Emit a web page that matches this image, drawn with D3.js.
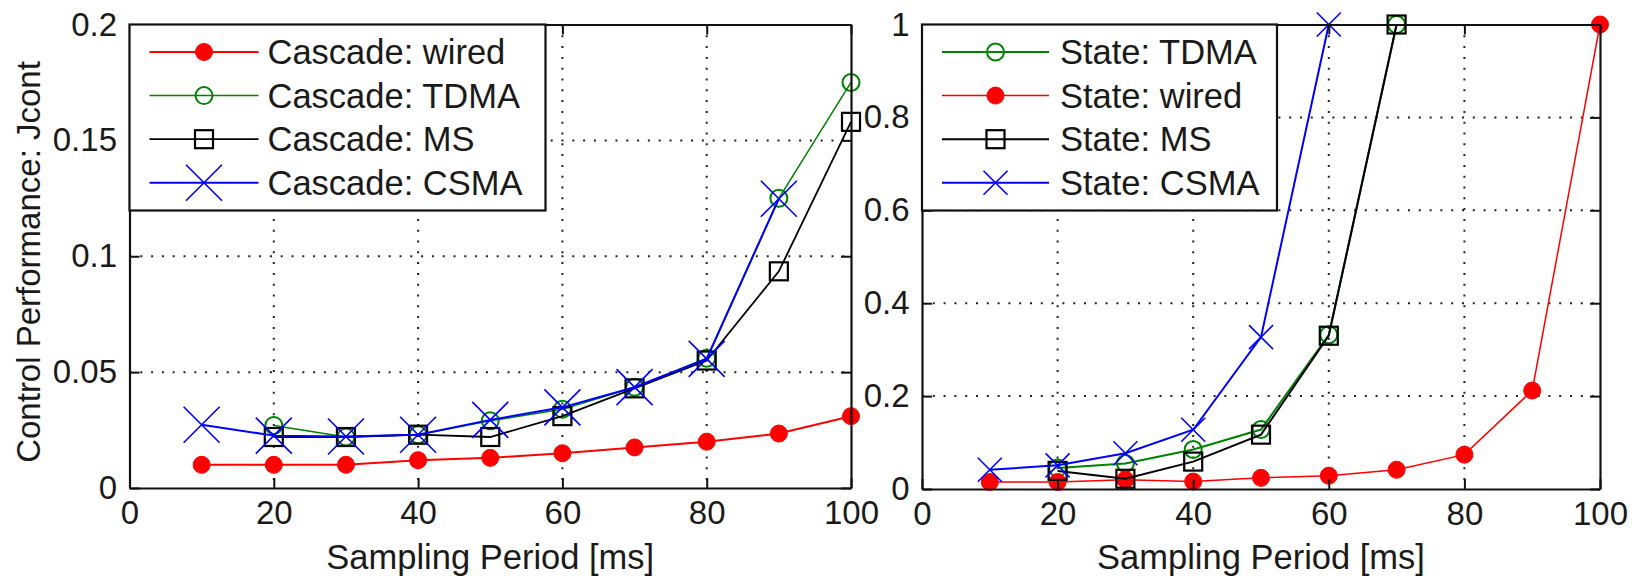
<!DOCTYPE html>
<html>
<head>
<meta charset="utf-8">
<script src="https://cdn.jsdelivr.net/npm/d3@7"></script>
<style>
  html, body { margin: 0; padding: 0; background: #fff; }
  svg text { font-family: "Liberation Sans", Arial, Helvetica, sans-serif; fill: #1a1a1a; }
</style>
</head>
<body>
<svg id="chart" width="1644" height="576"></svg>
<script>
// ---------- data ----------
const xTicks = [0, 20, 40, 60, 80, 100];
const yTicksLeft = [0, 0.05, 0.1, 0.15, 0.2];
const yTickLabelsLeft = ["0", "0.05", "0.1", "0.15", "0.2"];
const yTicksRight = [0, 0.2, 0.4, 0.6, 0.8, 1];
const yTickLabelsRight = ["0", "0.2", "0.4", "0.6", "0.8", "1"];

// Left panel: Cascade
const cascadeWiredX = [10, 20, 30, 40, 50, 60, 70, 80, 90, 100];
const cascadeWiredY = [0.010, 0.010, 0.010, 0.012, 0.013, 0.015, 0.0175, 0.020, 0.0235, 0.031];
const cascadeTDMAX = [20, 30, 40, 50, 60, 70, 80, 90, 100];
const cascadeTDMAY = [0.027, 0.022, 0.023, 0.029, 0.034, 0.0435, 0.056, 0.125, 0.175];
const cascadeMSX = [20, 30, 40, 50, 60, 70, 80, 90, 100];
const cascadeMSY = [0.022, 0.022, 0.023, 0.022, 0.031, 0.043, 0.055, 0.0935, 0.158];
const cascadeCSMAX = [10, 20, 30, 40, 50, 60, 70, 80, 90];
const cascadeCSMAY = [0.0273, 0.0226, 0.0222, 0.023, 0.0294, 0.0348, 0.0435, 0.0557, 0.1248];

// Right panel: State
const stateTDMAX = [20, 30, 40, 50, 60, 70];
const stateTDMAY = [0.045, 0.055, 0.085, 0.128, 0.332, 1.0];
const stateWiredX = [10, 20, 30, 40, 50, 60, 70, 80, 90, 100];
const stateWiredY = [0.015, 0.015, 0.02, 0.016, 0.024, 0.0286, 0.0415, 0.074, 0.212, 1.0];
const stateMSX = [20, 30, 40, 50, 60, 70];
const stateMSY = [0.039, 0.022, 0.059, 0.117, 0.33, 1.0];
const stateCSMAX = [10, 20, 30, 40, 50, 60];
const stateCSMAY = [0.0415, 0.051, 0.077, 0.1275, 0.327, 1.0];

const leftNames = ["Cascade: wired", "Cascade: TDMA", "Cascade: MS", "Cascade: CSMA"];
const rightNames = ["State: TDMA", "State: wired", "State: MS", "State: CSMA"];
const xLabel = "Sampling Period [ms]";
const yLabel = "Control Performance: Jcont";

// ---------- drawing ----------
const svg = d3.select("#chart");
const FS = 33;      // tick labels
const FSL = 34.5;   // legend and axis titles

function zip(xs, ys) { return xs.map((x, i) => ({ x: x, y: ys[i] })); }

function drawMarker(g, type, cx, cy, color, size) {
  if (type === "dot") {
    g.append("circle").attr("cx", cx).attr("cy", cy).attr("r", 8.5)
      .attr("fill", color).attr("stroke", color).attr("stroke-width", 1);
  } else if (type === "circle") {
    g.append("circle").attr("cx", cx).attr("cy", cy).attr("r", 8.5)
      .attr("fill", "none").attr("stroke", color).attr("stroke-width", 2);
  } else if (type === "square") {
    g.append("rect").attr("x", cx - 9).attr("y", cy - 9).attr("width", 18).attr("height", 18)
      .attr("fill", "none").attr("stroke", color).attr("stroke-width", 2.2);
  } else if (type === "x") {
    const h = size;
    g.append("path")
      .attr("d", `M${cx - h},${cy - h}L${cx + h},${cy + h}M${cx - h},${cy + h}L${cx + h},${cy - h}`)
      .attr("stroke", color).attr("stroke-width", 1.6).attr("fill", "none");
  }
}

function panel(opts) {
  const { x0, x1, y0, y1, yMax, yTicks, yTickLabels, series, legend } = opts;
  const x = d3.scaleLinear().domain([0, 100]).range([x0, x1]);
  const y = d3.scaleLinear().domain([0, yMax]).range([y1, y0]);
  const g = svg.append("g");

  // grid (dotted)
  const grid = g.append("g");
  grid.selectAll("line.gx").data(xTicks.slice(1, -1)).join("line")
    .attr("x1", d => x(d)).attr("x2", d => x(d)).attr("y1", y0).attr("y2", y1)
    .attr("stroke", "#222").attr("stroke-width", 2).attr("stroke-dasharray", "2,8.8");
  grid.selectAll("line.gy").data(yTicks.slice(1, -1)).join("line")
    .attr("y1", d => y(d)).attr("y2", d => y(d)).attr("x1", x0).attr("x2", x1)
    .attr("stroke", "#222").attr("stroke-width", 2).attr("stroke-dasharray", "2,8.8");

  // axes with inward ticks
  const axB = d3.axisBottom(x).tickValues(xTicks).tickFormat(d3.format("d"))
    .tickSizeInner(-10).tickSizeOuter(0).tickPadding(13);
  const axL = d3.axisLeft(y).tickValues(yTicks).tickFormat((d, i) => yTickLabels[i])
    .tickSizeInner(-10).tickSizeOuter(0).tickPadding(12.5);
  const axT = d3.axisTop(x).tickValues(xTicks).tickFormat("").tickSizeInner(-10).tickSizeOuter(0);
  const axR = d3.axisRight(y).tickValues(yTicks).tickFormat("").tickSizeInner(-10).tickSizeOuter(0);

  const styleAxis = sel => {
    sel.select(".domain").attr("stroke", "#111").attr("stroke-width", 2.2);
    sel.selectAll(".tick line").attr("stroke", "#111").attr("stroke-width", 2);
    sel.selectAll("text").attr("font-size", FS).attr("fill", "#1a1a1a")
      .attr("font-family", "Liberation Sans, Arial, sans-serif");
  };

  // series
  const line = d3.line().x(d => x(d.x)).y(d => y(d.y));
  series.forEach(s => {
    const pts = zip(s.xs, s.ys);
    g.append("path").datum(pts).attr("d", line)
      .attr("fill", "none").attr("stroke", s.color).attr("stroke-width", s.lw || 2);
    const mg = g.append("g");
    pts.forEach(p => drawMarker(mg, s.marker, x(p.x), y(p.y), s.color, s.xsize));
  });

  g.append("g").attr("transform", `translate(0,${y1})`).call(axB).call(styleAxis);
  g.append("g").attr("transform", `translate(${x0},0)`).call(axL).call(styleAxis);
  g.append("g").attr("transform", `translate(0,${y0})`).call(axT).call(styleAxis);
  g.append("g").attr("transform", `translate(${x1},0)`).call(axR).call(styleAxis);

  // legend
  const lg = g.append("g");
  lg.append("rect").attr("x", x0).attr("y", y0).attr("width", legend.w).attr("height", legend.h)
    .attr("fill", "#fff").attr("stroke", "#111").attr("stroke-width", 2.2);
  series.forEach((s, i) => {
    const ly = y0 + 27.5 + i * 43.6;
    lg.append("line").attr("x1", x0 + legend.l1).attr("x2", x0 + legend.l2)
      .attr("y1", ly).attr("y2", ly).attr("stroke", s.color).attr("stroke-width", s.lw || 2);
    drawMarker(lg, s.marker, x0 + (legend.l1 + legend.l2) / 2, ly, s.color, s.xsize);
    lg.append("text").attr("x", x0 + legend.tx).attr("y", ly).attr("dy", "0.35em")
      .attr("font-size", FSL).text(s.name);
  });

  // x label
  g.append("text").attr("x", (x0 + x1) / 2).attr("y", 569).attr("text-anchor", "middle")
    .attr("font-size", FSL).text(xLabel);
  return g;
}

panel({
  x0: 129.5, x1: 851, y0: 24.5, y1: 488, yMax: 0.2,
  yTicks: yTicksLeft, yTickLabels: yTickLabelsLeft,
  legend: { w: 416, h: 186, l1: 20, l2: 129, tx: 138 },
  series: [
    { name: leftNames[0], xs: cascadeWiredX, ys: cascadeWiredY, color: "#ff0000", marker: "dot", lw: 2 },
    { name: leftNames[1], xs: cascadeTDMAX, ys: cascadeTDMAY, color: "#008000", marker: "circle", lw: 1.5 },
    { name: leftNames[2], xs: cascadeMSX, ys: cascadeMSY, color: "#000000", marker: "square", lw: 1.8 },
    { name: leftNames[3], xs: cascadeCSMAX, ys: cascadeCSMAY, color: "#0000ff", marker: "x", xsize: 18, lw: 2 }
  ]
});

panel({
  x0: 922, x1: 1600, y0: 24.5, y1: 489, yMax: 1,
  yTicks: yTicksRight, yTickLabels: yTickLabelsRight,
  legend: { w: 355, h: 186, l1: 20, l2: 127, tx: 138 },
  series: [
    { name: rightNames[0], xs: stateTDMAX, ys: stateTDMAY, color: "#008000", marker: "circle", lw: 2 },
    { name: rightNames[1], xs: stateWiredX, ys: stateWiredY, color: "#ff0000", marker: "dot", lw: 1.5 },
    { name: rightNames[2], xs: stateMSX, ys: stateMSY, color: "#000000", marker: "square", lw: 2 },
    { name: rightNames[3], xs: stateCSMAX, ys: stateCSMAY, color: "#0000ff", marker: "x", xsize: 12, lw: 2 }
  ]
});

// y label (left panel)
svg.append("text").attr("transform", "translate(40,262) rotate(-90)")
  .attr("text-anchor", "middle").attr("font-size", FS).text(yLabel);
</script>
</body>
</html>
